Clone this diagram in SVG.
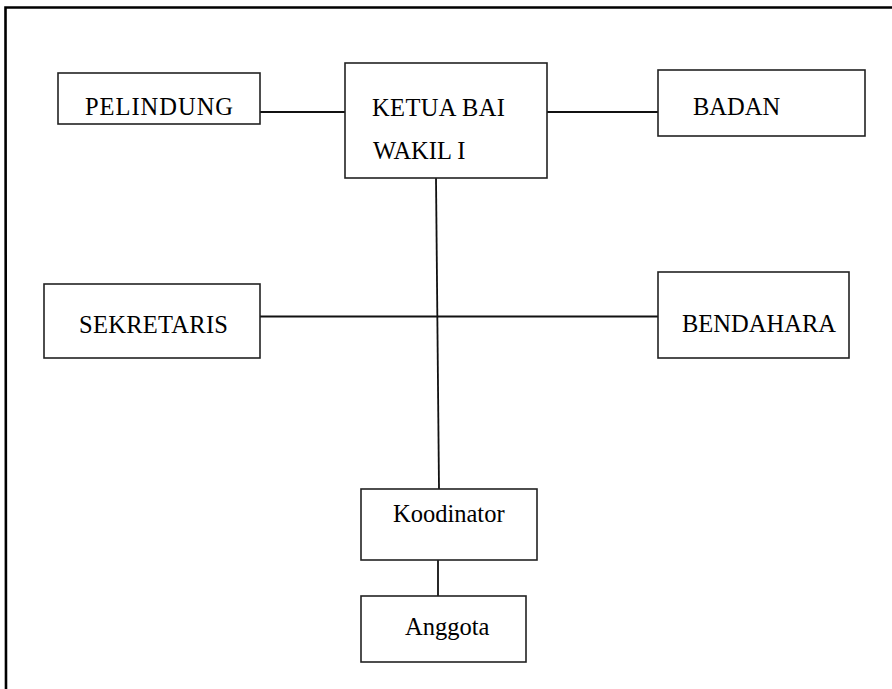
<svg xmlns="http://www.w3.org/2000/svg" width="892" height="689" viewBox="0 0 892 689">
<style>
.box{fill:#fff;stroke:#222;stroke-width:1.6}
.ln{fill:none;stroke:#111;stroke-width:1.8}
.frame{fill:none;stroke:#000;stroke-width:2.6}
text{font-family:"Liberation Serif","Times New Roman",serif;font-size:24.5px;fill:#000}
</style>
<rect width="892" height="689" fill="#fff"/>
<path class="frame" d="M6,689 L5.5,7.5 L892,7.5"/>
<g id="connectors">
<line class="ln" x1="260" y1="112" x2="345" y2="112"/>
<line class="ln" x1="547" y1="112" x2="658" y2="112"/>
<line class="ln" x1="436" y1="178" x2="439" y2="489"/>
<line class="ln" x1="260" y1="316.5" x2="658" y2="316.5"/>
<line class="ln" x1="438" y1="560" x2="438" y2="596"/>
</g>
<g id="pelindung"><rect class="box" x="58" y="73" width="202" height="51"/><text x="85" y="115" textLength="148">PELINDUNG</text></g>
<g id="ketua"><rect class="box" x="345" y="63" width="202" height="115"/><text x="372" y="116" textLength="133">KETUA BAI</text><text x="373" y="159">WAKIL I</text></g>
<g id="badan"><rect class="box" x="658" y="70" width="207" height="66"/><text x="693" y="115">BADAN</text></g>
<g id="sekretaris"><rect class="box" x="44" y="284" width="216" height="74"/><text x="79" y="333" textLength="149">SEKRETARIS</text></g>
<g id="bendahara"><rect class="box" x="658" y="272" width="191" height="86"/><text x="682" y="332" textLength="154">BENDAHARA</text></g>
<g id="koodinator"><rect class="box" x="361" y="489" width="176" height="71"/><text x="393" y="522">Koodinator</text></g>
<g id="anggota"><rect class="box" x="361" y="596" width="165" height="66"/><text x="405" y="635">Anggota</text></g>
</svg>
